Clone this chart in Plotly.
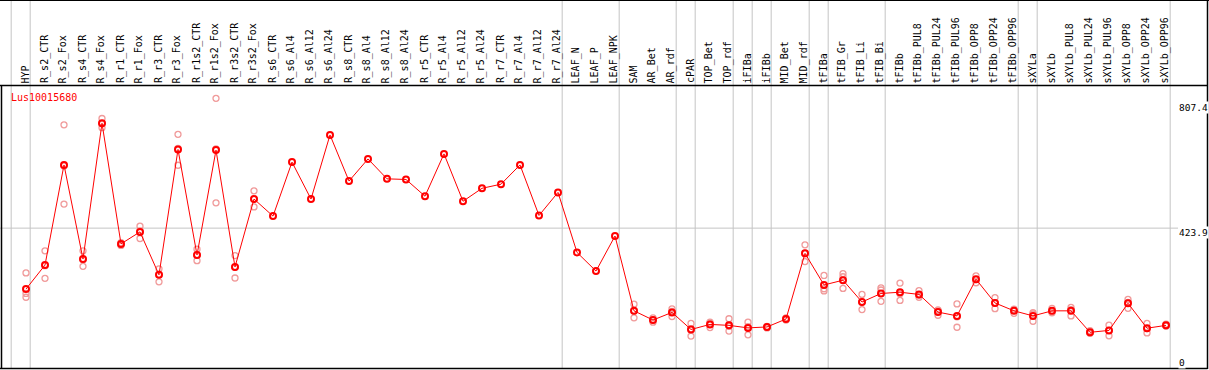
import plotly.graph_objects as go

samples = ["HYP", "R_s2_CTR", "R_s2_Fox", "R_s4_CTR", "R_s4_Fox", "R_r1_CTR", "R_r1_Fox",
           "R_r3_CTR", "R_r3_Fox", "R_r1s2_CTR", "R_r1s2_Fox", "R_r3s2_CTR", "R_r3s2_Fox",
           "R_s6_CTR", "R_s6_Al4", "R_s6_Al12", "R_s6_Al24", "R_s8_CTR", "R_s8_Al4",
           "R_s8_Al12", "R_s8_Al24", "R_r5_CTR", "R_r5_Al4", "R_r5_Al12", "R_r5_Al24",
           "R_r7_CTR", "R_r7_Al4", "R_r7_Al12", "R_r7_Al24", "LEAF_N", "LEAF_P", "LEAF_NPK",
           "SAM", "AR_Bet", "AR_rdf", "cPAR", "TOP_Bet", "TOP_rdf", "iFIBa", "iFIBb",
           "MID_Bet", "MID_rdf", "tFIBa", "tFIB_Gr", "tFIB_Li", "tFIB_Bi", "tFIBb",
           "tFIBb_PUL8", "tFIBb_PUL24", "tFIBb_PUL96", "tFIBb_OPP8", "tFIBb_OPP24",
           "tFIBb_OPP96", "sXYLa", "sXYLb", "sXYLb_PUL8", "sXYLb_PUL24", "sXYLb_PUL96",
           "sXYLb_OPP8", "sXYLb_OPP24", "sXYLb_OPP96"]

mean_values = [231, 307, 624, 326, 756, 374, 412, 276, 673, 339, 671, 301, 516,
               462, 633, 516, 719, 573, 643, 580, 578, 525, 659, 509, 550,
               563, 624, 464, 537, 347, 288, 399,
               162, 133, 157, 103, 119, 116, 108, 111, 136, 344,
               244, 259, 190, 217, 221, 214, 158, 146, 262, 187, 162,
               146, 162, 162, 94, 100, 186, 107, 116]

rep_1 = [282, 352, 751, 352, 771, 378, 430, 295, 721, 357, 835, 337, 542,
         None, None, None, None, None, None, None, None, None, None, None, None,
         None, None, None, None, None, None, None,
         183, 140, 168, 122, 126, 137, 126, 108, 140, 371,
         274, 280, 214, 235, 250, 226, 165, 184, 273, 204, 167,
         156, 170, 173, 99, 117, 198, 122, 120]
rep_2 = [217, 265, 500, 303, 742, 369, 391, 254, 623, 321, 504, 266, 491,
         None, None, None, None, None, None, None, None, None, None, None, None,
         None, None, None, None, None, None, None,
         140, 126, 144, 82, 109, 98, 86, 113, 133, 318,
         225, 270, 166, 228, 195, 205, 148, 110, 251, 169, 154,
         129, 156, 146, 91, 83, 170, 92, 114]
rep_3 = [205, 305, 621, 324, 755, 374, 415, 277, 676, 339, 675, 300, 516,
         None, None, None, None, None, None, None, None, None, None, None, None,
         None, None, None, None, None, None, None,
         161, 133, 160, 105, 123, 113, 112, 111, 135, 344,
         232, 233, 190, 192, 216, 212, 162, 143, 261, 188, 163,
         152, 158, 166, 92, 100, 189, 106, 114]

gene_name = "Lus10015680"
tick_values = [0, 423.9, 807.4]
tick_labels = ["0", "423.9", "807.4"]
grid_value = 423.9
group_ends = [-1, 0, 28, 31, 34, 35, 37, 38, 39, 41, 42, 45, 52, 53, 60]

W, H = 1209, 370
T, B = 85, 1
PH = H - T - B
ytop = 1 + (T - 0.5) / PH

xs = list(range(len(samples)))
x_lo, x_hi = -26 / 19, (W - 26) / 19
y_lo, y_hi = (362 - 369) / 0.3158, (362 - 85) / 0.3158

fig = go.Figure()

rx, ry = [], []
for reps in (rep_1, rep_2, rep_3):
    for i, v in enumerate(reps):
        if v is not None:
            rx.append(i)
            ry.append(v)
fig.add_trace(go.Scatter(x=rx, y=ry, mode="markers",
                         marker=dict(symbol="circle-open", size=6, color="#f09a9a",
                                     line=dict(width=1.3, color="#f09a9a")),
                         hoverinfo="skip", showlegend=False))
fig.add_trace(go.Scatter(x=xs, y=mean_values, mode="lines+markers",
                         line=dict(color="#ff0000", width=1),
                         marker=dict(symbol="circle-open", size=6, color="#ff0000",
                                     line=dict(width=2, color="#ff0000")),
                         showlegend=False))

shapes = []
for g in group_ends:
    shapes.append(dict(type="line", xref="x", yref="paper", x0=g + 0.22, x1=g + 0.22,
                       y0=0, y1=ytop + 0.01, line=dict(color="#c4c4c4", width=1),
                       layer="below"))
shapes.append(dict(type="line", xref="paper", yref="y", x0=0, x1=1178 / W,
                   y0=grid_value, y1=grid_value, line=dict(color="#c4c4c4", width=1),
                   layer="below"))
# frame
shapes.append(dict(type="line", xref="paper", yref="paper", x0=0, x1=1,
                   y0=ytop, y1=ytop, line=dict(color="black", width=1)))
shapes.append(dict(type="line", xref="paper", yref="paper", x0=0, x1=1207.5 / W,
                   y0=1 - 0.5 / PH, y1=1 - 0.5 / PH, line=dict(color="black", width=1.5)))
shapes.append(dict(type="line", xref="paper", yref="paper", x0=0, x1=1207.5 / W,
                   y0=0.5 / PH, y1=0.5 / PH, line=dict(color="black", width=1.5)))
shapes.append(dict(type="line", xref="paper", yref="paper", x0=1.5 / W, x1=1.5 / W,
                   y0=0, y1=1, line=dict(color="black", width=1.5)))
shapes.append(dict(type="line", xref="paper", yref="paper", x0=1207.5 / W, x1=1207.5 / W,
                   y0=0, y1=ytop, line=dict(color="black", width=1.5)))

annotations = []
mono = "DejaVu Sans Mono"
for i, s in enumerate(samples):
    annotations.append(dict(x=i - 0.03, y=1, xref="x", yref="paper", text=s,
                            showarrow=False, textangle=-90, xanchor="center",
                            yanchor="bottom", yshift=1, borderpad=0,
                            font=dict(family=mono, size=10, color="black")))
annotations.append(dict(x=10 / W, y=(369 - 97) / PH, xref="paper", yref="paper",
                        text=gene_name, showarrow=False, xanchor="left", yanchor="middle",
                        borderpad=0, font=dict(family=mono, size=10, color="#ff0000")))
label_shift = {"0": 0, "423.9": -4, "807.4": 0}
for v, t in zip(tick_values, tick_labels):
    annotations.append(dict(x=1177.5 / W, y=v, xref="paper", yref="y", text=t,
                            showarrow=False, xanchor="left", yanchor="middle",
                            yshift=label_shift[t], borderpad=0, bgcolor="white",
                            font=dict(family=mono, size=9.5, color="black")))

fig.update_layout(
    width=W, height=H,
    margin=dict(l=0, r=0, t=T, b=B, pad=0),
    paper_bgcolor="white", plot_bgcolor="white",
    xaxis=dict(range=[x_lo, x_hi], visible=False, fixedrange=True),
    yaxis=dict(range=[y_lo, y_hi], visible=False, fixedrange=True),
    shapes=shapes, annotations=annotations, showlegend=False,
)

fig.write_html("out.html", config={"displayModeBar": False},
               post_script="document.body.style.margin='0';document.body.style.padding='0';")
